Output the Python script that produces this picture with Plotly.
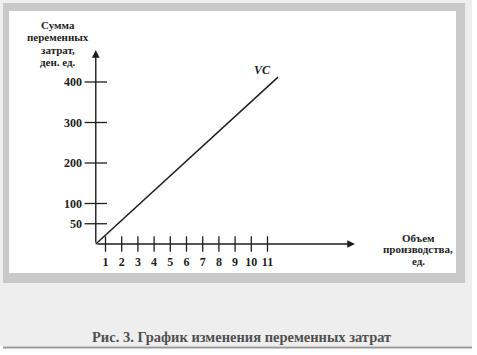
import plotly.graph_objects as go

W, H = 477, 355

# ---- data ----
x_ticks = [1, 2, 3, 4, 5, 6, 7, 8, 9, 10, 11]
x_tick_labels = ["1", "2", "3", "4", "5", "6", "7", "8", "9", "10", "11"]
y_ticks = [50, 100, 200, 300, 400]
y_tick_labels = ["50", "100", "200", "300", "400"]
volume = [0.4, 11.65]        # объем производства
vc = [0, 412]                # сумма переменных затрат
origin_x, origin_y = 0.4, 0
x_axis_end = 16.4
y_axis_end = 479
series_name = "VC"
y_title_lines = ["Сумма", "переменных", "затрат,", "ден. ед."]
x_title_lines = ["Объем", "производства,", "ед."]
caption = "Рис. 3. График изменения переменных затрат"

# ---- scales (pixel mapping) ----
px_per_x = 16.2
px_per_y = 0.405
x0_px, y0_px = 105.5, 244  # pixel of x=1, y=0
x_range = [1 - x0_px / px_per_x, 1 + (W - x0_px) / px_per_x]
y_range = [-(H - y0_px) / px_per_y, y0_px / px_per_y]

def px(v):
    return v / W

def py(v):
    return 1 - v / H

INK = "#1e1e1e"
SERIF = "Liberation Serif, Times New Roman, serif"

fig = go.Figure()

# VC line
fig.add_trace(go.Scatter(x=volume, y=vc, mode="lines",
                         line=dict(color=INK, width=1.5),
                         hoverinfo="skip", showlegend=False))
# crossing tick marks on x axis
fig.add_trace(go.Scatter(x=x_ticks, y=[origin_y] * len(x_ticks), mode="markers",
                         marker=dict(symbol="line-ns", size=11,
                                     line=dict(color=INK, width=1.3)),
                         hoverinfo="skip", showlegend=False))
# crossing tick marks on y axis
fig.add_trace(go.Scatter(x=[origin_x] * len(y_ticks), y=y_ticks, mode="markers",
                         marker=dict(symbol="line-ew", size=16,
                                     line=dict(color=INK, width=1.3)),
                         hoverinfo="skip", showlegend=False))

shapes = [
    dict(type="rect", xref="paper", yref="paper", x0=px(0), x1=px(472), y0=py(0), y1=py(346),
         fillcolor="#eeeeee", line=dict(width=0), layer="below"),
    dict(type="rect", xref="paper", yref="paper", x0=px(3), x1=px(465), y0=py(3), y1=py(283),
         fillcolor="#c9c9c9", line=dict(width=0), layer="below"),
    dict(type="rect", xref="paper", yref="paper", x0=px(9), x1=px(456), y0=py(11), y1=py(273),
         fillcolor="#ffffff", line=dict(width=0), layer="below"),
    dict(type="line", xref="paper", yref="paper", x0=px(3), x1=px(472), y0=py(347.5), y1=py(347.5),
         line=dict(color="#9a9a9a", width=2), layer="below"),
]

def label(xp, yp, text, size=11, color=INK):
    return dict(x=px(xp), y=py(yp), xref="paper", yref="paper", text=text,
                showarrow=False, xanchor="center", yanchor="middle",
                font=dict(family=SERIF, size=size, color=color))

annotations = [
    # axes with arrows
    dict(x=x_axis_end, y=origin_y, ax=origin_x, ay=origin_y, xref="x", yref="y",
         axref="x", ayref="y", showarrow=True, arrowhead=2, arrowsize=1.1,
         arrowwidth=1.4, arrowcolor=INK, text=""),
    dict(x=origin_x, y=y_axis_end, ax=origin_x, ay=origin_y, xref="x", yref="y",
         axref="x", ayref="y", showarrow=True, arrowhead=2, arrowsize=1.1,
         arrowwidth=1.4, arrowcolor=INK, text=""),
    label(262, 70, "<b><i>" + series_name + "</i></b>", size=12),
    label(242, 337, "<b>" + caption + "</b>", size=14.5, color="#505050"),
]
for i, t in enumerate(y_title_lines):
    annotations.append(label(58, 25 + 12.4 * i, "<b>" + t + "</b>"))
for i, t in enumerate(x_title_lines):
    annotations.append(label(418, 238 + 11.5 * i, "<b>" + t + "</b>"))

fig.update_layout(
    width=W, height=H, autosize=False,
    margin=dict(l=0, r=0, t=0, b=0, pad=0),
    paper_bgcolor="#ffffff", plot_bgcolor="rgba(0,0,0,0)",
    shapes=shapes, annotations=annotations, showlegend=False,
    xaxis=dict(range=x_range, showgrid=False, zeroline=False, showline=False,
               tickvals=x_ticks, ticktext=x_tick_labels, ticks="",
               anchor="free", position=py(y0_px), ticklabelstandoff=9,
               automargin=False,
               tickfont=dict(family=SERIF, size=12, color=INK, weight="bold"),
               fixedrange=True),
    yaxis=dict(range=y_range, showgrid=False, zeroline=False, showline=False,
               tickvals=y_ticks, ticktext=y_tick_labels, ticks="",
               anchor="free", position=px(96), ticklabelstandoff=14,
               automargin=False,
               tickfont=dict(family=SERIF, size=12, color=INK, weight="bold"),
               fixedrange=True),
)

fig.write_html("out.html", config={"displayModeBar": False},
               post_script="document.body.style.margin='0';document.body.style.overflow='hidden';")
